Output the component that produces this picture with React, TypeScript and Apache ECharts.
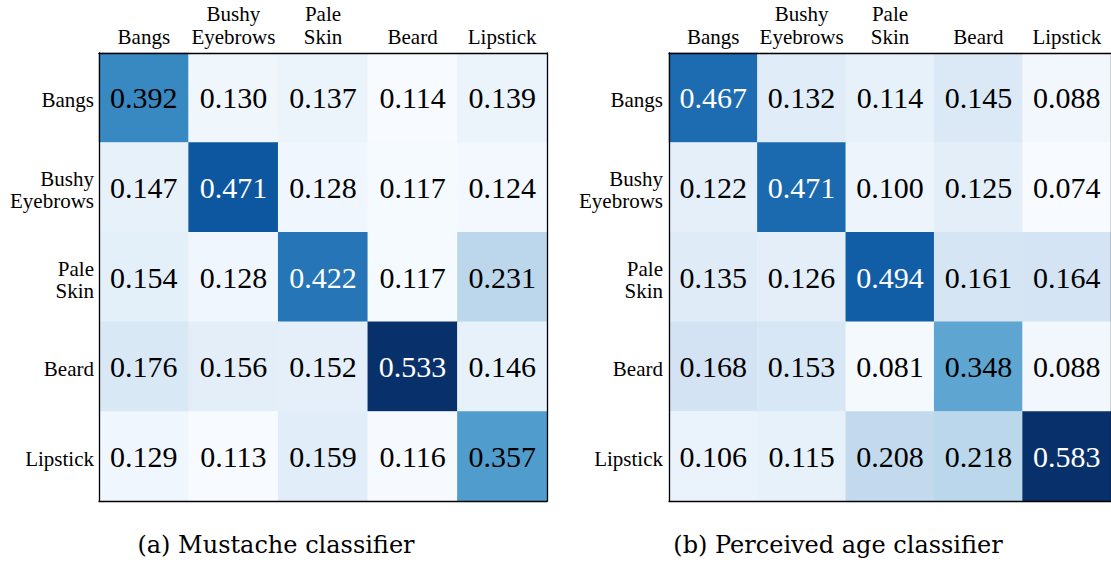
import React, { useEffect, useRef } from "react";
import * as echarts from "echarts";

const categories = ["Bangs", "Bushy\nEyebrows", "Pale\nSkin", "Beard", "Lipstick"];

// rows top-to-bottom, columns left-to-right
const mustacheValues = [
  [0.392, 0.13, 0.137, 0.114, 0.139],
  [0.147, 0.471, 0.128, 0.117, 0.124],
  [0.154, 0.128, 0.422, 0.117, 0.231],
  [0.176, 0.156, 0.152, 0.533, 0.146],
  [0.129, 0.113, 0.159, 0.116, 0.357],
];

const ageValues = [
  [0.467, 0.132, 0.114, 0.145, 0.088],
  [0.122, 0.471, 0.1, 0.125, 0.074],
  [0.135, 0.126, 0.494, 0.161, 0.164],
  [0.168, 0.153, 0.081, 0.348, 0.088],
  [0.106, 0.115, 0.208, 0.218, 0.583],
];

const captions = ["(a) Mustache classifier", "(b) Perceived age classifier"];

const blues = ["#f7fbff", "#deebf7", "#c6dbef", "#9ecae1", "#6baed6", "#4292c6", "#2171b5", "#08519c", "#08306b"];

const serif = "Liberation Serif, Times New Roman, serif";
const captionFont = "DejaVu Serif, serif";

function buildData(m: number[][]) {
  const flat = m.flat();
  const min = Math.min(...flat);
  const max = Math.max(...flat);
  const data: any[] = [];
  m.forEach((row, r) =>
    row.forEach((v, c) => {
      const t = (v - min) / (max - min);
      data.push({ value: [c, r, v], label: { color: t > 0.7 ? "#ffffff" : "#000000" } });
    })
  );
  return { data, min, max };
}

function yLabel(v: string) {
  const parts = v.split("\n");
  if (parts.length === 1) return `{s|${v}}`;
  return `{a|${parts[0]}}\n{b|${parts[1]}}`;
}

export default function App() {
  const ref = useRef<HTMLDivElement>(null);
  useEffect(() => {
    if (!ref.current) return;
    const chart = echarts.init(ref.current, undefined, { renderer: "svg" });
    const mats = [mustacheValues, ageValues];
    const built = mats.map(buildData);
    const lefts = [99, 669];

    const grids = lefts.map((l) => ({ left: l, top: 53, width: 448, height: 448 }));
    const xAxes: any[] = [];
    const yAxes: any[] = [];
    const line = { show: true, onZero: false, lineStyle: { color: "#000", width: 1.3 } };
    const richBase = { fontFamily: serif, fontSize: 21, color: "#000", align: "right" };
    lefts.forEach((_, gi) => {
      xAxes.push({
        type: "category",
        gridIndex: gi,
        position: "top",
        data: categories,
        z: 10,
        axisLine: line,
        axisTick: { show: false },
        splitLine: { show: false },
        axisLabel: {
          margin: 5,
          fontFamily: serif,
          fontSize: 21,
          lineHeight: 23,
          color: "#000",
          interval: 0,
        },
      });
      xAxes.push({
        type: "category",
        gridIndex: gi,
        position: "bottom",
        data: categories,
        z: 10,
        axisLine: line,
        axisTick: { show: false },
        axisLabel: { show: false },
        splitLine: { show: false },
      });
      yAxes.push({
        type: "category",
        gridIndex: gi,
        position: "left",
        inverse: true,
        data: categories,
        z: 10,
        axisLine: line,
        axisTick: { show: false },
        splitLine: { show: false },
        axisLabel: {
          margin: gi === 0 ? 5 : 6,
          fontFamily: serif,
          fontSize: 21,
          color: "#000",
          align: "right",
          interval: 0,
          formatter: yLabel,
          rich: {
            s: { ...richBase, lineHeight: 26, verticalAlign: "bottom" },
            a: { ...richBase, lineHeight: 28, verticalAlign: "bottom" },
            b: { ...richBase, lineHeight: 23 },
          },
        },
      });
      yAxes.push({
        type: "category",
        gridIndex: gi,
        position: "right",
        inverse: true,
        data: categories,
        z: 10,
        axisLine: line,
        axisTick: { show: false },
        axisLabel: { show: false },
        splitLine: { show: false },
      });
    });

    chart.setOption({
      animation: false,
      backgroundColor: "#ffffff",
      textStyle: { fontFamily: serif },
      grid: grids,
      xAxis: xAxes,
      yAxis: yAxes,
      visualMap: built.map((b, i) => ({
        type: "continuous",
        show: false,
        seriesIndex: i,
        min: b.min,
        max: b.max,
        inRange: { color: blues },
      })),
      series: built.map((b, i) => ({
        type: "heatmap",
        xAxisIndex: i * 2,
        yAxisIndex: i * 2,
        data: b.data,
        emphasis: { disabled: true },
        label: {
          show: true,
          fontFamily: serif,
          fontSize: 30,
          formatter: (p: any) => p.value[2].toFixed(3),
        },
      })),
      graphic: [
        {
          type: "text",
          x: 276,
          y: 545,
          style: {
            text: captions[0],
            fontFamily: captionFont,
            fontSize: 24,
            fill: "#000",
            align: "center",
            verticalAlign: "middle",
          },
        },
        {
          type: "text",
          x: 838,
          y: 545,
          style: {
            text: captions[1],
            fontFamily: captionFont,
            fontSize: 24,
            fill: "#000",
            align: "center",
            verticalAlign: "middle",
          },
        },
      ],
    });
    return () => chart.dispose();
  }, []);
  return (
    <div
      ref={ref}
      style={{ position: "fixed", left: 0, top: 0, width: 1111, height: 562, overflow: "hidden" }}
    />
  );
}
